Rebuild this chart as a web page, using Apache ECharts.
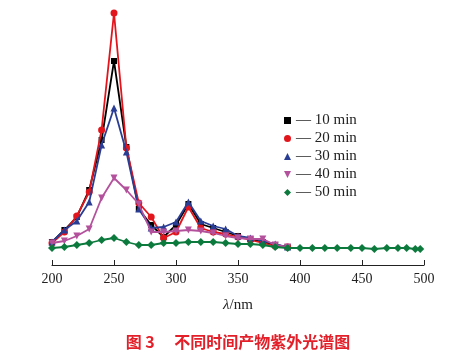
<!DOCTYPE html>
<html><head><meta charset="utf-8">
<script src="https://cdn.jsdelivr.net/npm/echarts@6/dist/echarts.min.js"></script>
<style>html,body{margin:0;padding:0;background:#fff}#c{width:476px;height:361px}</style>
</head><body><div id="c"></div>
<script>
var wl = [200,210,220,230,240,250,260,270,280,290,300,310,320,330,340,350,360,370,380,390];
var s10 = [0.23,0.35,0.48,0.75,1.25,2.04,1.18,0.56,0.40,0.28,0.40,0.61,0.41,0.37,0.33,0.29,0.26,0.23,0.20,0.18];
var s20 = [0.22,0.33,0.49,0.73,1.35,2.52,1.17,0.62,0.48,0.27,0.33,0.58,0.37,0.33,0.31,0.28,0.25,0.22,0.19,0.18];
var s30 = [0.23,0.35,0.44,0.63,1.20,1.57,1.13,0.56,0.37,0.38,0.43,0.63,0.44,0.39,0.36,0.29,0.27,0.24,0.21,0.18];
var s40 = [0.22,0.24,0.29,0.36,0.67,0.87,0.75,0.61,0.33,0.33,0.34,0.35,0.34,0.32,0.29,0.27,0.26,0.26,0.20,0.18];
var wl50 = [200,210,220,230,240,250,260,270,280,290,300,310,320,330,340,350,360,370,380,390,400,410,420,430,441,450,460,470,479,486,493,497];
var s50 = [0.17,0.18,0.20,0.22,0.25,0.27,0.23,0.20,0.20,0.22,0.22,0.23,0.23,0.23,0.22,0.21,0.21,0.20,0.18,0.17,0.17,0.17,0.17,0.17,0.17,0.17,0.16,0.17,0.17,0.17,0.16,0.16];
var names = ['10 min','20 min','30 min','40 min','50 min'];
var xTicks = [200,250,300,350,400,450,500];

function pairs(x, y){ return x.map(function(v,i){ return [v, y[i]]; }); }
var colors = ['#000000','#e3151c','#2a3d94','#b4519c','#0d7a3d'];
var symbols = ['rect','circle','triangle','path://M0,0 L10,0 L5,10 Z','diamond'];
var sizes = [6,7,7,7,8];
var datas = [pairs(wl,s10),pairs(wl,s20),pairs(wl,s30),pairs(wl,s40),pairs(wl50,s50)];

var chart = echarts.init(document.getElementById('c'));
chart.setOption({
  backgroundColor:'#fff',
  animation:false,
  grid:{left:52,right:52,top:10,bottom:96},
  xAxis:{type:'value',min:xTicks[0],max:xTicks[xTicks.length-1],interval:50,
    axisLine:{show:true,lineStyle:{color:'#222',width:1.2}},
    axisTick:{show:true,inside:true,length:5,lineStyle:{color:'#222'}},
    axisLabel:{color:'#222',fontFamily:'Liberation Serif',fontSize:14,margin:7},
    splitLine:{show:false},
    name:'{i|λ}/nm',nameLocation:'middle',nameGap:33,
    nameTextStyle:{color:'#222',fontFamily:'Liberation Serif',fontSize:15,
      rich:{i:{fontStyle:'italic',fontFamily:'Liberation Serif',fontSize:15,color:'#222'}}}
  },
  yAxis:{type:'value',min:0,max:2.55,show:false},
  legend:{orient:'vertical',left:279,top:108,itemWidth:7,itemHeight:7,itemGap:3,
    textStyle:{fontFamily:'Liberation Serif',fontSize:15,color:'#222',lineHeight:15},
    formatter:function(n){return '— '+n;},
    data:names.map(function(n,i){return {name:n,icon:symbols[i],itemStyle:{color:colors[i]}};})
  },
  series:names.map(function(n,i){
    return {name:n,type:'line',data:datas[i],symbol:symbols[i],symbolSize:sizes[i],
      lineStyle:{color:colors[i],width:1.8},itemStyle:{color:colors[i]},z:2+i};
  }),
  graphic:[{type:'text',left:'center',top:334,style:{text:'图 3　 不同时间产物紫外光谱图',
    fill:'#e3202a',font:'bold 16px "Noto Sans CJK SC"'}}]
});
</script></body></html>
